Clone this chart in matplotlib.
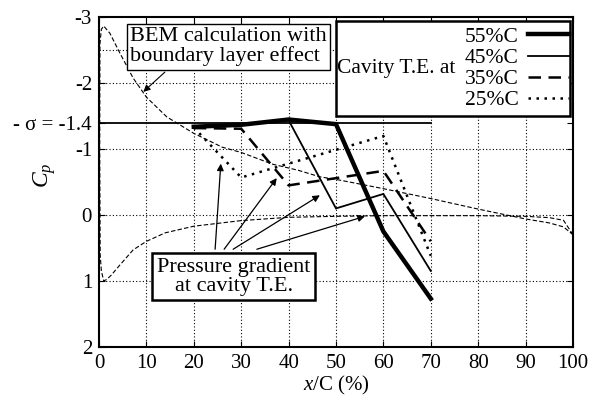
import matplotlib
matplotlib.use("Agg")
import matplotlib.pyplot as plt
from matplotlib.patches import Rectangle

plt.rcParams['font.family'] = ['Liberation Serif', 'DejaVu Serif']
plt.rcParams['mathtext.fontset'] = 'custom'
plt.rcParams['mathtext.rm'] = 'Liberation Serif'
plt.rcParams['mathtext.it'] = 'Liberation Serif:italic'

# ---- data ----
x_cav = [20, 30, 40, 50, 60, 70]
cp_55 = [-1.34, -1.37, -1.45, -1.38, 0.25, 1.27]
cp_45 = [-1.35, -1.38, -1.44, -0.10, -0.32, 0.85]
x_35 = [20, 30, 40, 60, 70]
cp_35 = [-1.32, -1.31, -0.45, -0.67, 0.40]
x_25 = [20, 30, 60, 70]
cp_25 = [-1.33, -0.57, -1.20, 0.62]

bem_lower_x = [100, 98, 95, 90, 80, 70, 60, 50, 40, 30, 20, 14, 10, 7.2, 4.4, 2.5, 1.6, 1.0, 0.5, 0.25]
bem_lower_cp = [0.30, 0.08, 0.04, 0.02, 0.01, 0.01, 0.01, 0.02, 0.035, 0.085, 0.17, 0.27, 0.40, 0.53, 0.76, 0.92, 0.98, 1.0, 0.85, 0.6]
bem_upper_x = [0.15, 0.2, 0.5, 1.0, 2.3, 4.4, 7.2, 10, 14.3, 20, 26, 30, 36.7, 42, 46.6, 50.8, 60, 70, 80, 90, 95, 98, 100]
bem_upper_cp = [-1.0, -2.6, -2.82, -2.87, -2.76, -2.46, -2.08, -1.79, -1.49, -1.24, -1.03, -0.95, -0.77, -0.68, -0.58, -0.53, -0.40, -0.25, -0.09, 0.06, 0.12, 0.18, 0.30]

sigma_cp = -1.4
sigma_x = [0, 70]

x_ticks = [0, 10, 20, 30, 40, 50, 60, 70, 80, 90, 100]
y_ticks = [-3, -2, -1.4, -1, 0, 1, 2]
y_tick_labels = ['-3', '-2', '- σ = -1.4', '-1', '0', '1', '2']
grid_y = [-2.5, -2, -1, 0, 1]

series = [
    ('55%C', x_cav, cp_55, dict(color='black', lw=3.2, ls='-')),
    ('45%C', x_cav, cp_45, dict(color='black', lw=1.3, ls='-')),
    ('35%C', x_35, cp_35, dict(color='black', lw=1.8, ls=(0, (5, 3)))),
    ('25%C', x_25, cp_25, dict(color='black', lw=1.8, ls=(0, (1, 2.2)))),
]

fig = plt.figure(figsize=(5.91, 4.04), dpi=100)
ax = fig.add_axes([0.1675, 0.1418, 0.802, 0.815])

# grid
for gx in x_ticks[1:-1]:
    ax.axvline(gx, color='black', lw=0.8, ls=(0, (1, 2)), zorder=0)
for gy in grid_y:
    ax.axhline(gy, color='black', lw=0.8, ls=(0, (1, 2)), zorder=0)

# BEM curve
bem_x = bem_lower_x + bem_upper_x
bem_cp = bem_lower_cp + bem_upper_cp
ax.plot(bem_x, bem_cp, color='black', lw=0.8, ls=(0, (4, 2)), zorder=2)

# sigma line
ax.plot(sigma_x, [sigma_cp, sigma_cp], color='black', lw=1.3, zorder=2)

handles = []
for lab, xs, ys, st in series:
    ln, = ax.plot(xs, ys, zorder=3, solid_joinstyle='miter', **st)
    handles.append(ln)

ax.set_xlim(0, 100)
ax.set_ylim(2, -3)
ax.set_xticks(x_ticks)
ax.set_yticks(y_ticks)
ax.set_yticklabels(y_tick_labels)
ax.tick_params(direction='in', top=True, right=True, labelsize=15, length=4, width=0.8, pad=5)
for s in ax.spines.values():
    s.set_linewidth(1.5)

ax.set_xlabel('$x$/C (%)', fontsize=15, labelpad=1)
ax.set_ylabel('$C_p$', fontsize=17)
ax.yaxis.set_label_coords(-0.087, 0.52)

# legend box
ax.add_patch(Rectangle((0.5, 0.70), 0.494, 0.29, transform=ax.transAxes,
                       facecolor='white', edgecolor='black', lw=1.8, zorder=5))
ax.text(0.503, 0.845, 'Cavity T.E. at', transform=ax.transAxes, fontsize=15.5,
        ha='left', va='center', zorder=6)
leg = ax.legend(handles, [s[0] for s in series], loc='upper right',
                bbox_to_anchor=(0.997, 0.978), frameon=False, markerfirst=False,
                fontsize=15.5, handlelength=1.9, handletextpad=0.45,
                labelspacing=0.05, borderpad=0.1, borderaxespad=0.0)
leg.set_zorder(7)

# BEM annotation box
ax.text(6.6, -2.85, 'BEM calculation with\nboundary layer effect', fontsize=16,
        ha='left', va='top', linespacing=1.0, zorder=6,
        bbox=dict(boxstyle='square,pad=0.15', facecolor='white', edgecolor='black', lw=1.0))
ax.annotate('', xy=(9.35, -1.87), xytext=(13.9, -2.17),
            arrowprops=dict(arrowstyle='-|>', color='black', lw=0.8,
                            mutation_scale=10, shrinkA=0, shrinkB=0), zorder=6)

# pressure gradient box
ax.text(28.4, 0.94, 'Pressure gradient\nat cavity T.E.', fontsize=16,
        ha='center', va='center', linespacing=1.0, zorder=6,
        bbox=dict(boxstyle='square,pad=0.2', facecolor='white', edgecolor='black', lw=1.8))
arrow_starts = [(24.5, 0.52), (26.4, 0.52), (28.3, 0.52), (33.3, 0.52)]
arrow_tips = [(25.7, -0.78), (37.5, -0.56), (46.6, -0.30), (56.1, 0.02)]
for s0, t0 in zip(arrow_starts, arrow_tips):
    ax.annotate('', xy=t0, xytext=s0,
                arrowprops=dict(arrowstyle='-|>', color='black', lw=0.9,
                                mutation_scale=10, shrinkA=0, shrinkB=0), zorder=4)

fig.savefig('out.png', dpi=100)
